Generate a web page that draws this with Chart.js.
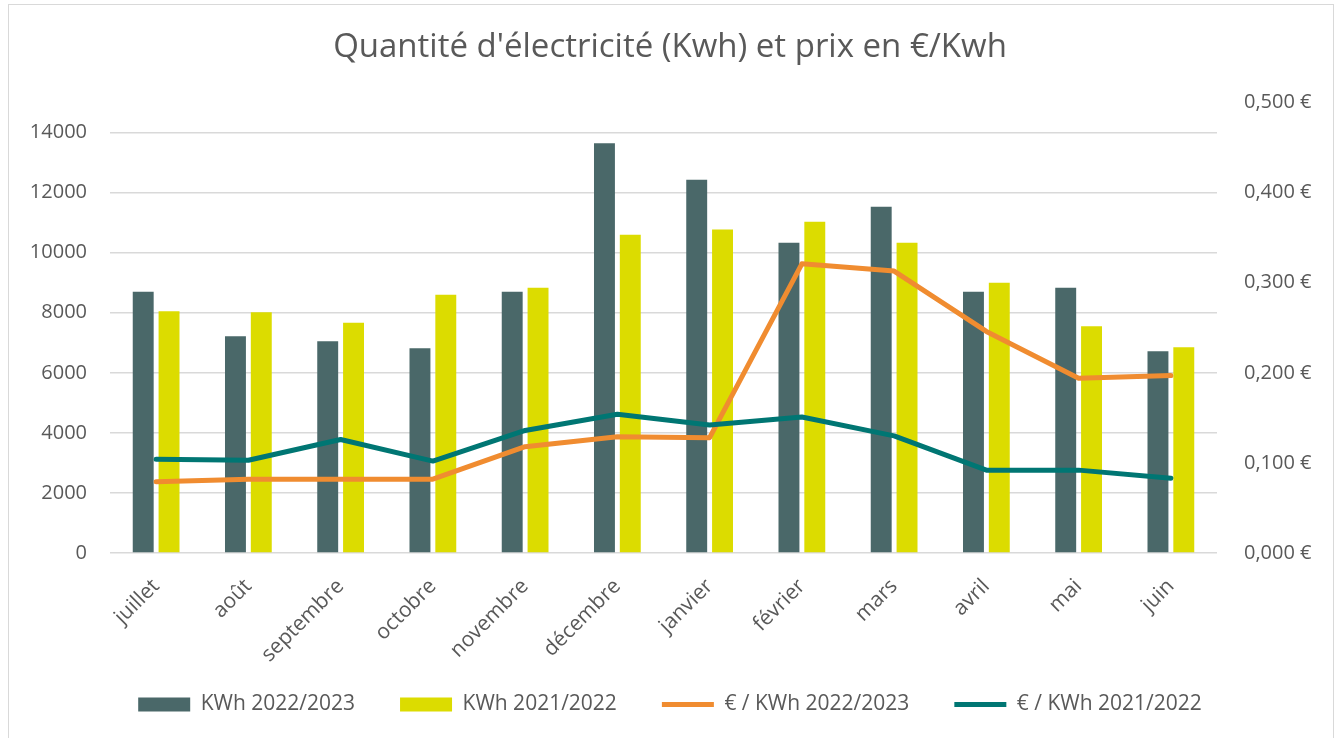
<!DOCTYPE html>
<html>
<head>
<meta charset="utf-8">
<script src="https://cdn.jsdelivr.net/npm/chart.js@4/dist/chart.umd.min.js"></script>
<style>
  body { margin: 0; background: #fff; }
  #wrap { position: relative; width: 1340px; height: 738px; overflow: hidden; }
  #frame { position: absolute; left: 8px; top: 4px; width: 1326px; height: 760px; border: 1px solid #d9d9d9; box-sizing: border-box; }
  #c { position: absolute; left: 0; top: 0; }
</style>
</head>
<body>
<div id="wrap">
  <div id="frame"></div>
  <canvas id="c" width="1340" height="738"></canvas>
</div>
<script>
// data
var mois = ['juillet', 'août', 'septembre', 'octobre', 'novembre', 'décembre', 'janvier', 'février', 'mars', 'avril', 'mai', 'juin'];
var kwh2223 = [8700, 7220, 7050, 6820, 8700, 13650, 12430, 10330, 11530, 8700, 8830, 6720];
var kwh2122 = [8050, 8020, 7670, 8600, 8830, 10600, 10770, 11030, 10330, 9000, 7550, 6850];
var prix2223 = [0.079, 0.082, 0.082, 0.082, 0.118, 0.129, 0.128, 0.321, 0.313, 0.246, 0.194, 0.197];
var prix2122 = [0.104, 0.103, 0.126, 0.102, 0.136, 0.154, 0.142, 0.151, 0.130, 0.092, 0.092, 0.083];
var ticksKwh = [0, 2000, 4000, 6000, 8000, 10000, 12000, 14000];

var gris = '#595959';
Chart.defaults.font.family = "'Open Sans', sans-serif";
Chart.defaults.color = gris;

new Chart(document.getElementById('c'), {
  type: 'bar',
  data: {
    labels: mois,
    datasets: [
      { label: 'KWh 2022/2023', data: kwh2223, backgroundColor: '#4a6869', yAxisID: 'y', order: 2, pointStyle: 'rect',
        categoryPercentage: 0.56, barPercentage: 0.81 },
      { label: 'KWh 2021/2022', data: kwh2122, backgroundColor: '#dcdc00', yAxisID: 'y', order: 2, pointStyle: 'rect',
        categoryPercentage: 0.56, barPercentage: 0.81 },
      { type: 'line', label: '€ / KWh 2022/2023', data: prix2223, borderColor: '#f08c30', backgroundColor: '#f08c30',
        borderWidth: 5, pointRadius: 0, tension: 0, yAxisID: 'y1', order: 1, pointStyle: 'line',
        borderCapStyle: 'round', borderJoinStyle: 'round' },
      { type: 'line', label: '€ / KWh 2021/2022', data: prix2122, borderColor: '#007673', backgroundColor: '#007673',
        borderWidth: 5, pointRadius: 0, tension: 0, yAxisID: 'y1', order: 0, pointStyle: 'line',
        borderCapStyle: 'round', borderJoinStyle: 'round' }
    ]
  },
  options: {
    responsive: false,
    animation: false,
    devicePixelRatio: 1,
    layout: { padding: { left: 0, right: 0, top: 0, bottom: 13 } },
    plugins: {
      title: {
        display: true,
        text: "Quantité d'électricité (Kwh) et prix en €/Kwh",
        color: gris,
        font: { size: 33, weight: 'normal' },
        padding: { top: 28, bottom: 35 }
      },
      legend: {
        position: 'bottom',
        labels: {
          usePointStyle: true,
          pointStyleWidth: 52,
          boxHeight: 14,
          padding: 45,
          color: gris,
          font: { size: 21 },
          sort: function (a, b) { return a.datasetIndex - b.datasetIndex; }
        }
      },
      tooltip: { enabled: false }
    },
    scales: {
      x: {
        grid: { display: false },
        border: { display: false },
        ticks: { minRotation: 45, maxRotation: 45, font: { size: 21 }, color: gris, padding: 13 },
        afterFit: function (s) {
          s.height = 96;
          // rotated month names run past the axis box, don't clip them
          s._computeLabelArea = function () {};
        }
      },
      y: {
        position: 'left',
        min: 0,
        max: 15000,
        border: { display: false },
        grid: { color: '#d9d9d9', lineWidth: 1.5, drawTicks: false },
        ticks: { font: { size: 20 }, color: gris, padding: 23, callback: function (v) { return String(v); } },
        afterBuildTicks: function (s) { s.ticks = ticksKwh.map(function (v) { return { value: v }; }); },
        afterFit: function (s) { s.width = 110; }
      },
      y1: {
        position: 'right',
        min: 0,
        max: 0.5,
        border: { display: false },
        grid: { display: false, drawTicks: false },
        ticks: {
          stepSize: 0.1, font: { size: 20 }, color: gris, padding: 27,
          callback: function (v) { return v.toFixed(3).replace('.', ',') + ' €'; }
        },
        afterFit: function (s) { s.width = 123; }
      }
    }
  }
});
</script>
</body>
</html>
